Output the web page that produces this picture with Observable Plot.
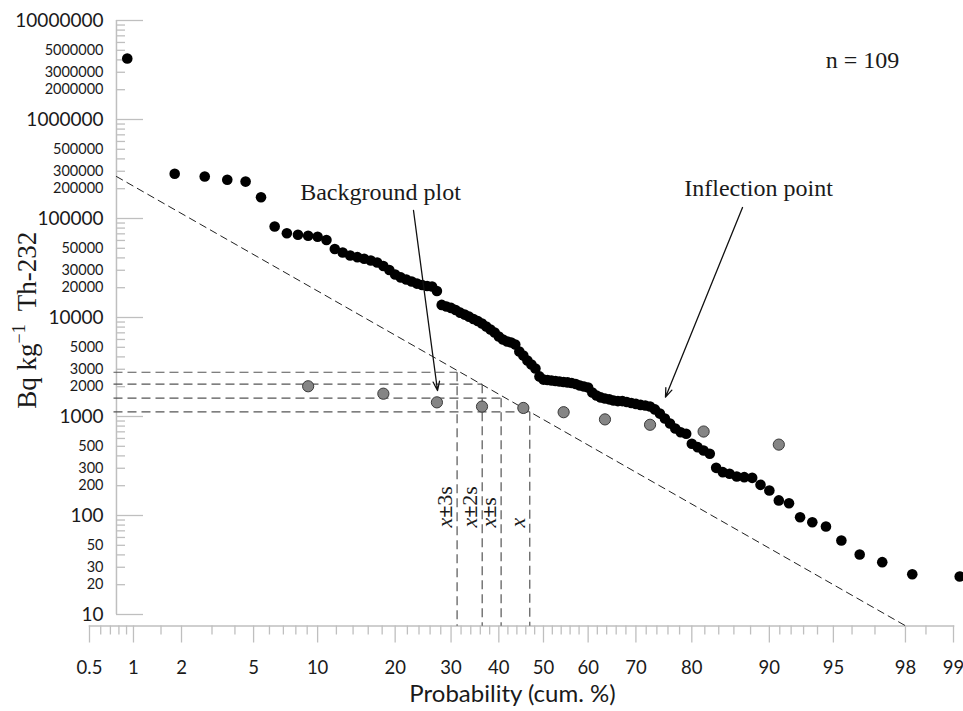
<!DOCTYPE html>
<html><head><meta charset="utf-8">
<script src="https://cdn.jsdelivr.net/npm/d3@7"></script>
<script src="https://cdn.jsdelivr.net/npm/@observablehq/plot@0.6"></script>
<style>
html,body{margin:0;padding:0;background:#fff;}
#chart{width:963px;height:711px;}
</style></head><body><div id="chart"></div>
<script>
// ---- data (cumulative probability %, Th-232 Bq/kg) ----
const cumProb = [0.91,1.82,2.73,3.64,4.55,5.45,6.36,7.27,8.18,9.09,
  10.00,10.91,11.82,12.73,13.64,14.55,15.45,16.36,17.27,18.18,
  19.09,20.00,20.91,21.82,22.73,23.64,24.55,25.45,26.36,27.27,
  28.18,29.09,30.00,30.91,31.82,32.73,33.64,34.55,35.45,36.36,
  37.27,38.18,39.09,40.00,40.91,41.82,42.73,43.64,44.55,45.45,
  46.36,47.27,48.18,49.09,50.00,50.91,51.82,52.73,53.64,54.55,
  55.45,56.36,57.27,58.18,59.09,60.00,60.91,61.82,62.73,63.64,
  64.55,65.45,66.36,67.27,68.18,69.09,70.00,70.91,71.82,72.73,
  73.64,74.55,75.45,76.36,77.27,78.18,79.09,80.00,80.91,81.82,
  82.73,83.64,84.55,85.45,86.36,87.27,88.18,89.09,90.00,90.91,
  91.82,92.73,93.64,94.55,95.45,96.36,97.27,98.18,99.09];
const th232 = [4130000,283000,266000,246000,236000,164000,83000,71000,68500,66900,
  65300,60600,49200,45400,42300,40700,39200,37600,35900,33100,
  30200,27200,25400,24200,23100,22000,21300,20800,20600,18500,
  13400,12900,12500,11900,11200,10700,10200,9660,9220,8700,
  8110,7570,7060,6430,6000,5720,5590,5340,4540,4130,
  3680,3350,3050,2540,2360,2340,2310,2280,2260,2230,
  2210,2180,2130,2060,2010,1960,1750,1630,1560,1520,
  1490,1450,1430,1430,1400,1370,1340,1310,1290,1260,
  1180,1070,955,850,757,694,669,530,490,454,
  420,303,274,264,248,244,240,204,179,142,
  133,96,85.5,77.4,55.9,40.4,33.8,25.5,24.2];
const bgProb = [9.09,18.18,27.27,36.36,45.45,54.55,63.64,72.73,81.82,90.91];
const bgValue = [2020,1700,1390,1260,1220,1105,935,825,705,520];

// reference (dashed) line and statistics guides
const refLineProb = [0.77, 98];
const refLineValue = [265600, 7.7];
const statLabels = ["x±3s","x±2s","x±s","x"];
const statProb = [31.2, 36.4, 40.5, 46.9];
const statValue = [2800, 2120, 1530, 1115];
const guideStartProb = 0.735;
const guideEndValue = 7.7;
const statLabelValue = 75.6;

// annotations
const noteText = ["Background plot","Inflection point","n = 109"];
const noteProb = [17.75, 88.88, 96.49];
const noteValue = [183000, 200900, 3945000];
const arrowFromProb = [23.04, 87.06];
const arrowFromValue = [120400, 129150];
const arrowToProb = [27.38, 75.56];
const arrowToValue = [1830, 1567];

// axes
const xMajorTicks = [0.5,1,2,5,10,20,30,40,50,60,70,80,90,95,98,99];
const xMinorTicks = [0.6,0.7,0.8,0.9,1.5,3,4,6,7,8,9,12,14,16,18,22,24,26,28,32,34,36,38,42,44,46,48,52,54,56,58,62,64,66,68,72,74,76,78,82,84,86,88,91,92,93,94,96,97,98.5];
const yMajorTicks = [10,100,1000,10000,100000,1000000,10000000];
const yLabeledMinor = [20,30,50,200,300,500,2000,3000,5000,20000,30000,50000,200000,300000,500000,2000000,3000000,5000000];
const yMinorTicks = [20,30,40,50,60,70,80,90,200,300,400,500,600,700,800,900,
  2000,3000,4000,5000,6000,7000,8000,9000,20000,30000,40000,50000,60000,70000,80000,90000,
  200000,300000,400000,500000,600000,700000,800000,900000,
  2000000,3000000,4000000,5000000,6000000,7000000,8000000,9000000];
const yAxisProb = 0.77;        // where the value axis stands on the probability axis
const yMajorTickEndProb = 1.162;
const yMinorTickEndProb = 0.886;
const xTitle = "Probability (cum. %)";
const yTitle = "Bq kg-1 Th-232";

// inverse normal CDF (Acklam)
function probit(p) {
  const a=[-3.969683028665376e+01,2.209460984245205e+02,-2.759285104469687e+02,1.383577518672690e+02,-3.066479806614716e+01,2.506628277459239e+00];
  const b=[-5.447609879822406e+01,1.615858368580409e+02,-1.556989798598866e+02,6.680131188771972e+01,-1.328068155288572e+01];
  const c=[-7.784894002430293e-03,-3.223964580411365e-01,-2.400758277161838e+00,-2.549732539343734e+00,4.374664141464968e+00,2.938163982698783e+00];
  const d=[7.784695709041462e-03,3.224671290700398e-01,2.445134137142996e+00,3.754408661907416e+00];
  const plow=0.02425, phigh=1-plow; let q,r;
  if (p<plow){q=Math.sqrt(-2*Math.log(p));return (((((c[0]*q+c[1])*q+c[2])*q+c[3])*q+c[4])*q+c[5])/((((d[0]*q+d[1])*q+d[2])*q+d[3])*q+1);}
  if (p<=phigh){q=p-0.5;r=q*q;return (((((a[0]*r+a[1])*r+a[2])*r+a[3])*r+a[4])*r+a[5])*q/(((((b[0]*r+b[1])*r+b[2])*r+b[3])*r+b[4])*r+1);}
  q=Math.sqrt(-2*Math.log(1-p));return -(((((c[0]*q+c[1])*q+c[2])*q+c[3])*q+c[4])*q+c[5])/((((d[0]*q+d[1])*q+d[2])*q+d[3])*q+1);
}
const P = p => probit(p / 100);
const xLabel = new Map(xMajorTicks.map(p => [P(p), String(p)]));

const dots = cumProb.map((p, i) => ({p, v: th232[i]}));
const bg = bgProb.map((p, i) => ({p, v: bgValue[i]}));
const ref = refLineProb.map((p, i) => ({p, v: refLineValue[i]}));
const stats = statLabels.map((t, i) => ({t, p: statProb[i], v: statValue[i]}));
const notes = noteText.map((t, i) => ({t, p: noteProb[i], v: noteValue[i]}));
const arrows = arrowFromProb.map((p, i) => ({p1: p, v1: arrowFromValue[i], p2: arrowToProb[i], v2: arrowToValue[i]}));

const serif = '"Liberation Serif","Times New Roman",serif';
const sans = 'Lato,"Open Sans",sans-serif';
const axisGray = "#bfbfbf";
const ink = "#1a1a1a";

const chart = Plot.plot({
  width: 963, height: 711,
  marginLeft: 89, marginRight: 10, marginTop: 20, marginBottom: 85.5,
  style: {background: "#fff", color: ink, fontFamily: sans, overflow: "visible"},
  x: {type: "linear", domain: [P(0.5), P(99)]},
  y: {type: "log", domain: [10, 1e7], range: [614, 20], axis: null},
  marks: [
    // probability axis
    Plot.frame({anchor: "bottom", stroke: axisGray, strokeWidth: 1.5}),
    Plot.axisX({ticks: xMinorTicks.map(P), tickSize: 9, fill: "none", stroke: axisGray, strokeWidth: 1.3, label: null}),
    Plot.axisX({ticks: xMajorTicks.map(P), tickSize: 17, fill: "none", stroke: axisGray, strokeWidth: 1.3, label: null}),
    Plot.axisX({ticks: xMajorTicks.map(P), tickSize: 0, tickPadding: 34.5, tickFormat: z => xLabel.get(z), fontSize: 18.5, fontFamily: sans, fill: ink, label: null}),
    // value axis
    Plot.ruleX([yAxisProb], {x: P, y1: 10, y2: 1e7, stroke: axisGray, strokeWidth: 1.5}),
    Plot.ruleY(yMinorTicks, {y: d => d, x1: () => P(yAxisProb), x2: () => P(yMinorTickEndProb), stroke: axisGray, strokeWidth: 1.3}),
    Plot.ruleY(yMajorTicks, {y: d => d, x1: () => P(yAxisProb), x2: () => P(yMajorTickEndProb), stroke: axisGray, strokeWidth: 1.3}),
    Plot.text(yMajorTicks, {y: d => d, text: d => String(d), frameAnchor: "left", dx: 14, textAnchor: "end", lineAnchor: "middle", fontSize: 19, fontFamily: sans, fill: ink}),
    Plot.text(yLabeledMinor, {y: d => d, text: d => String(d), frameAnchor: "left", dx: 14, textAnchor: "end", lineAnchor: "middle", fontSize: 14.5, fontFamily: sans, fill: ink}),
    // reference line and guides
    Plot.line(ref, {x: d => P(d.p), y: "v", stroke: "#222", strokeWidth: 1, strokeDasharray: "7,5"}),
    Plot.link(stats, {x1: () => P(guideStartProb), x2: d => P(d.p), y1: "v", y2: "v", stroke: "#555", strokeWidth: 1.2, strokeDasharray: "9,5"}),
    Plot.link(stats, {x1: d => P(d.p), x2: d => P(d.p), y1: "v", y2: () => guideEndValue, stroke: "#555", strokeWidth: 1.2, strokeDasharray: "9,5"}),
    Plot.text(stats, {x: d => P(d.p), y: () => statLabelValue, text: "t", rotate: -90, textAnchor: "start", dx: -12, fontFamily: serif, fontSize: 22, fill: ink}),
    // points
    Plot.dot(bg, {x: d => P(d.p), y: "v", r: 5.6, fill: "#858585", stroke: "#3a3a3a", strokeWidth: 1}),
    Plot.dot(dots, {x: d => P(d.p), y: "v", r: 5.3, fill: "#000"}),
    // annotations
    Plot.arrow(arrows, {x1: d => P(d.p1), y1: "v1", x2: d => P(d.p2), y2: "v2", stroke: "#111", strokeWidth: 1.3, headLength: 11, headAngle: 40}),
    Plot.text(notes, {x: d => P(d.p), y: "v", text: "t", fontFamily: serif, fontSize: 24, fill: ink}),
    Plot.text([yTitle], {frameAnchor: "left", dx: -62, dy: -3, rotate: -90, textAnchor: "middle", lineAnchor: "middle", fontFamily: serif, fontSize: 27, fill: ink}),
    Plot.text([xTitle], {frameAnchor: "bottom", dx: -9, dy: 68.5, textAnchor: "middle", lineAnchor: "middle", fontFamily: sans, fontSize: 24, fill: ink})
  ]
});
document.getElementById("chart").appendChild(chart);

// rich text touches (superscript, italic x)
d3.select(chart).selectAll("text").each(function() {
  if (this.querySelector("tspan")) return;
  const s = this.textContent;
  const t = d3.select(this);
  if (s === yTitle) {
    t.text(null);
    t.append("tspan").text("Bq kg");
    t.append("tspan").attr("dy", -11).attr("font-size", 18).text("\u22121");
    t.append("tspan").attr("dy", 11).text("\u00a0 Th-232");
  } else if (statLabels.includes(s)) {
    t.text(null);
    t.append("tspan").attr("font-style", "italic").text("x");
    if (s.length > 1) {
      t.append("tspan").attr("font-weight", "bold").text("±");
      t.append("tspan").text(s.slice(2));
    }
  }
});
</script></body></html>
